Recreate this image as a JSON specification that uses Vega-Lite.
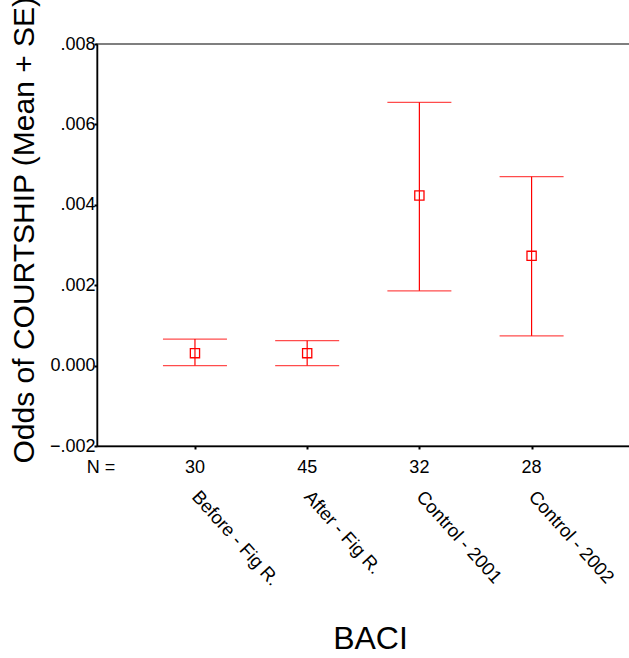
{
  "$schema": "https://vega.github.io/schema/vega-lite/v6.json",
  "autosize": "none",
  "padding": {"left": 97, "top": 44, "right": 0, "bottom": 212},
  "width": 533,
  "height": 402,
  "config": {
    "font": "Liberation Sans",
    "view": {"stroke": "#555555", "strokeWidth": 1.5}
  },
  "data": {
    "values": [
      {"idx": 1, "group": "Before - Fig R.", "n": 30, "mean": 0.00031, "lower": 0.0000, "upper": 0.00066},
      {"idx": 2, "group": "After - Fig R.", "n": 45, "mean": 0.00031, "lower": 0.0000, "upper": 0.00062},
      {"idx": 3, "group": "Control - 2001", "n": 32, "mean": 0.00423, "lower": 0.00186, "upper": 0.00655},
      {"idx": 4, "group": "Control - 2002", "n": 28, "mean": 0.00273, "lower": 0.00074, "upper": 0.00470}
    ]
  },
  "layer": [
    {
      "mark": {"type": "rule", "color": "#ff0000", "strokeWidth": 1.2},
      "encoding": {
        "x": {
          "field": "idx",
          "type": "quantitative",
          "scale": {"domain": [0.127, 4.877], "nice": false, "zero": false},
          "axis": {
            "values": [1, 2, 3, 4],
            "grid": false,
            "domainColor": "#000000",
            "domainWidth": 1.5,
            "tickColor": "#000000",
            "tickSize": 3,
            "tickWidth": 2,
            "labelExpr": "datum.value == 1 ? 'Before - Fig R.' : datum.value == 2 ? 'After - Fig R.' : datum.value == 3 ? 'Control - 2001' : 'Control - 2002'",
            "labelAngle": 48,
            "labelAlign": "left",
            "labelBaseline": "middle",
            "labelPadding": 44,
            "labelFontSize": 18.5,
            "labelColor": "#000000",
            "labelFlush": false,
            "labelOverlap": false,
            "title": "BACI",
            "titleFontSize": 32,
            "titleFontWeight": "normal",
            "titleColor": "#000000",
            "titleX": 273,
            "titleY": 202,
            "titleAlign": "center",
            "titleBaseline": "alphabetic"
          }
        },
        "y": {
          "field": "lower",
          "type": "quantitative",
          "scale": {"domain": [-0.002, 0.008], "nice": false, "zero": false},
          "axis": {
            "values": [-0.002, 0, 0.002, 0.004, 0.006, 0.008],
            "grid": false,
            "domainColor": "#000000",
            "domainWidth": 1.5,
            "tickColor": "#000000",
            "tickSize": 3,
            "tickWidth": 2,
            "labelPadding": -1,
            "labelFontSize": 18,
            "labelColor": "#000000",
            "labelFlush": false,
            "labelOverlap": false,
            "labelExpr": "datum.value == 0 ? '0.000' : replace(format(datum.value, '.3f'), '0.', '.')",
            "title": "Odds of COURTSHIP (Mean + SE)",
            "titleFontSize": 30,
            "titleFontWeight": "normal",
            "titleColor": "#000000",
            "titleAngle": 270,
            "titleAlign": "left",
            "titleBaseline": "alphabetic",
            "titleX": -64,
            "titleY": 419
          }
        },
        "y2": {"field": "upper"}
      }
    },
    {
      "mark": {"type": "tick", "orient": "horizontal", "color": "#ff0000", "size": 64, "thickness": 1.2},
      "encoding": {
        "x": {"field": "idx", "type": "quantitative"},
        "y": {"field": "upper", "type": "quantitative"}
      }
    },
    {
      "mark": {"type": "tick", "orient": "horizontal", "color": "#ff0000", "size": 64, "thickness": 1.2},
      "encoding": {
        "x": {"field": "idx", "type": "quantitative"},
        "y": {"field": "lower", "type": "quantitative"}
      }
    },
    {
      "mark": {"type": "point", "shape": "square", "filled": false, "color": "#ff0000", "size": 85, "strokeWidth": 1.3, "opacity": 1},
      "encoding": {
        "x": {"field": "idx", "type": "quantitative"},
        "y": {"field": "mean", "type": "quantitative"}
      }
    },
    {
      "mark": {"type": "text", "fontSize": 18, "color": "#000000", "align": "center", "baseline": "alphabetic", "dy": 27},
      "encoding": {
        "x": {"field": "idx", "type": "quantitative"},
        "y": {"datum": -0.002},
        "text": {"field": "n"}
      }
    },
    {
      "data": {"values": [{"label": "N ="}]},
      "mark": {"type": "text", "fontSize": 18, "color": "#000000", "align": "center", "baseline": "alphabetic", "dy": 27},
      "encoding": {
        "x": {"datum": 0.163},
        "y": {"datum": -0.002},
        "text": {"field": "label"}
      }
    }
  ]
}
